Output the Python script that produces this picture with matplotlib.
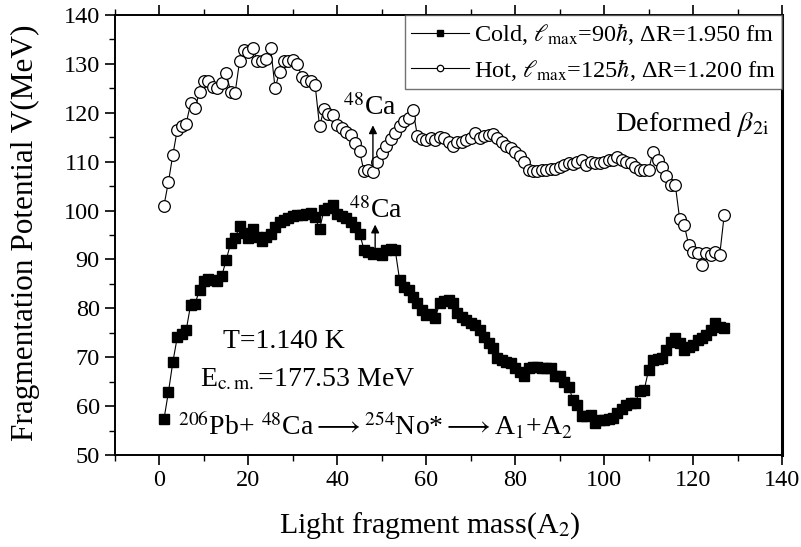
import numpy as np
import matplotlib
matplotlib.use('Agg')
import matplotlib.pyplot as plt

plt.rcParams['font.family'] = ['Liberation Serif', 'DejaVu Serif']
plt.rcParams['mathtext.fontset'] = 'stix'

# light fragment mass A2 (both curves are given for A2 = 1..127)
a2 = list(range(1, 128))

# cold fragmentation potential (MeV)
v_cold = [
    57.3, 62.8, 69.0, 74.1, 74.8, 75.5, 80.7, 80.9, 83.8, 85.6,
    86.0, 85.8, 85.5, 86.6, 89.9, 93.3, 94.3, 96.8, 95.5, 94.3,
    96.3, 94.6, 93.8, 94.5, 95.2, 96.6, 97.7, 98.0, 98.4, 98.8,
    99.0, 99.1, 99.3, 99.6, 98.6, 96.2, 100.1, 100.5, 101.1, 99.3,
    98.8, 98.4, 97.7, 96.7, 95.3, 92.0, 91.6, 91.2, 91.3, 91.0,
    92.0, 92.1, 92.0, 85.8, 84.4, 83.7, 82.4, 81.0, 79.7, 78.6,
    78.8, 78.0, 81.0, 81.4, 81.7, 81.0, 79.0, 78.3, 77.7, 77.0,
    76.6, 75.6, 74.2, 72.9, 71.8, 69.8, 69.5, 69.1, 68.8, 67.8,
    67.0, 66.1, 67.8, 68.1, 67.9, 67.8, 67.8, 67.8, 66.1, 66.1,
    65.0, 64.0, 61.3, 60.3, 57.9, 58.0, 58.2, 56.5, 57.2, 57.2,
    57.3, 57.5, 58.6, 59.5, 60.3, 60.6, 60.7, 63.0, 63.3, 67.4,
    69.4, 69.6, 69.8, 71.5, 73.2, 73.9, 72.9, 71.5, 72.0, 72.5,
    73.5, 74.0, 74.6, 75.6, 77.0, 76.2, 75.9,
]

# hot fragmentation potential (MeV)
v_hot = [
    101.0, 105.8, 111.4, 116.5, 117.2, 117.8, 121.9, 120.9, 124.3, 126.4,
    126.4, 125.3, 125.1, 126.0, 128.1, 124.3, 124.0, 130.5, 132.8, 132.5,
    133.3, 130.5, 130.5, 131.0, 133.3, 125.0, 128.4, 130.5, 130.6, 130.8,
    129.9, 127.4, 126.4, 126.4, 125.7, 117.2, 120.8, 119.7, 119.5, 117.5,
    116.8, 116.1, 115.5, 113.8, 112.1, 108.0, 108.3, 107.8, 110.0, 111.8,
    113.2, 114.6, 115.8, 117.2, 118.4, 119.0, 120.6, 115.3, 114.6, 114.4,
    114.8, 114.4, 115.0, 114.9, 114.0, 113.3, 114.1, 114.0, 114.5, 114.8,
    115.8, 114.8, 115.3, 115.5, 115.6, 114.8, 114.1, 113.3, 112.7, 112.0,
    111.2, 110.0, 108.2, 108.0, 108.0, 108.2, 108.3, 108.6, 108.6, 109.0,
    109.3, 109.7, 109.6, 110.0, 110.3, 109.3, 110.0, 109.7, 109.8, 110.0,
    110.4, 110.3, 111.0, 110.3, 110.0, 109.7, 109.0, 108.3, 108.2, 108.3,
    112.0, 110.3, 109.0, 107.0, 105.2, 105.2, 98.2, 97.1, 93.0, 91.6,
    91.3, 88.9, 91.3, 91.0, 91.6, 91.0, 99.1,
]

lbl_cold = r'Cold, $\ell_{\rm max}$=90$\hbar$, ΔR=1.950 fm'
lbl_hot = r'Hot, $\ell_{\rm max}$=125$\hbar$, ΔR=1.200 fm'

fig = plt.figure(figsize=(8.01, 5.47), dpi=100)
ax = fig.add_axes([0.1436, 0.1682, 0.8327, 0.8044])

ax.plot(a2, v_cold, '-', color='k', lw=0.8, marker='s', ms=7.6, mfc='k', mec='k',
        label=lbl_cold)
ax.plot(a2, v_hot, '-', color='k', lw=0.8, marker='o', ms=8.4, mfc='white',
        mec='k', mew=0.9, label=lbl_hot)

ax.set_xlim(-10, 140)
ax.set_ylim(50, 140)
ax.set_xticks(np.arange(0, 141, 20))
ax.set_xticks(np.arange(-10, 141, 10), minor=True)
ax.set_yticks(np.arange(50, 141, 10))
ax.set_yticks(np.arange(50, 141, 5), minor=True)
ax.tick_params(which='both', direction='out', labelsize=17.5, top=True, right=False)
ax.tick_params(which='major', length=7, width=1.2, pad=4)
ax.tick_params(which='minor', length=4, width=1.0)
ax.tick_params(axis='x', which='both', labeltop=False)
for s in ['left', 'bottom', 'top']:
    ax.spines[s].set_linewidth(1.4)
ax.spines['right'].set_linewidth(2.2)

ax.set_xlabel(r'Light fragment mass(A$_2$)', fontsize=21.5)
ax.set_ylabel('Fragmentation Potential V(MeV)', fontsize=22.5)
ax.xaxis.set_label_coords(0.472, -0.125)
ax.yaxis.set_label_coords(-0.112, 0.505)

leg = ax.legend(loc='upper right', bbox_to_anchor=(1.0, 1.0), borderaxespad=0,
                fontsize=17.5, frameon=True, fancybox=False, edgecolor='0.3',
                markerscale=0.55, handlelength=2.4, handletextpad=0.2,
                labelspacing=0.4, borderpad=0.25)
leg.get_frame().set_linewidth(1.0)

# 48Ca markers with arrows
ax.annotate('', xy=(48, 118.0), xytext=(48, 108.6),
            arrowprops=dict(arrowstyle='-|>', color='k', lw=1.0, mutation_scale=12))
ax.text(47.4, 119.6, r'$^{48}$Ca', fontsize=20, ha='center', va='baseline')
ax.annotate('', xy=(48.5, 97.7), xytext=(48.5, 91.4),
            arrowprops=dict(arrowstyle='-|>', color='k', lw=1.0, mutation_scale=12))
ax.text(48.6, 98.5, r'$^{48}$Ca', fontsize=20, ha='center', va='baseline')

ax.text(137, 116.3, r'Deformed $\beta_{\rm 2i}$', fontsize=20.5, ha='right', va='baseline')
ax.text(14.2, 71.9, 'T=1.140 K', fontsize=20, ha='left', va='baseline')
ax.text(9.0, 64.0, r'E$_{\rm c.m.}$=177.53 MeV', fontsize=20, ha='left', va='baseline')
ax.text(4.1, 54.1,
        r'$^{206}$Pb+ $^{48}$Ca$\longrightarrow$$^{254}$No*$\longrightarrow$A$_1$+A$_2$',
        fontsize=20, ha='left', va='baseline')

fig.savefig('out.png', dpi=100)
